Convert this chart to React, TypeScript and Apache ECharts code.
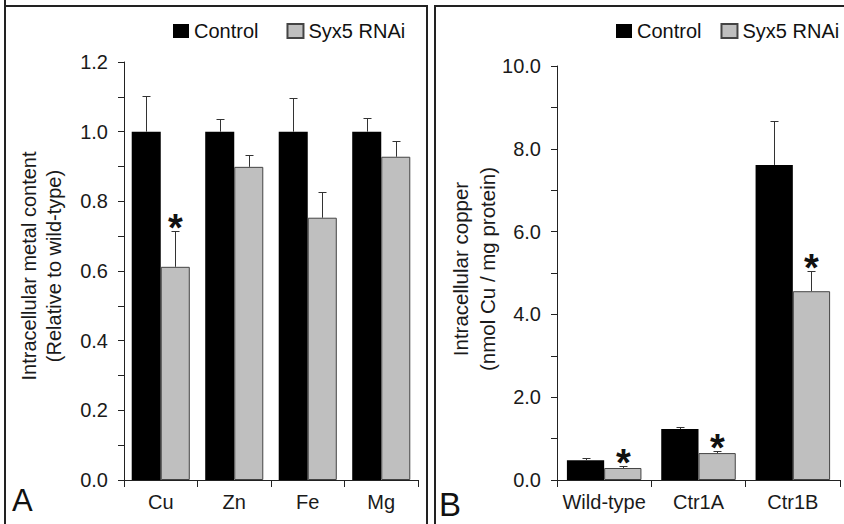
import React, { useEffect, useRef } from "react";
import * as echarts from "echarts";

const seriesNames = ["Control", "Syx5 RNAi"];

const catsA = ["Cu", "Zn", "Fe", "Mg"];
const controlA = [1.0, 1.0, 1.0, 1.0];
const controlErrA = [0.103, 0.037, 0.098, 0.04];
const syxA = [0.612, 0.899, 0.753, 0.928];
const syxErrA = [0.104, 0.035, 0.075, 0.046];
const sigA = [1, 0, 0, 0];
const ticksA = { min: 0, max: 1.2, interval: 0.2 };

const catsB = ["Wild-type", "Ctr1A", "Ctr1B"];
const controlB = [0.48, 1.23, 7.61];
const controlErrB = [0.05, 0.05, 1.06];
const syxB = [0.29, 0.65, 4.56];
const syxErrB = [0.04, 0.05, 0.49];
const sigB = [1, 1, 1];
const ticksB = { min: 0, max: 10, interval: 2 };

const FONT = "'Liberation Sans', Arial, Helvetica, sans-serif";
const AXIS_COLOR = "#222";
const GRAY = "#bfbfbf";
const GAP = 0.21;

function errSeries(
  name: string,
  values: number[],
  errs: number[],
  sig: number[],
  sign: number,
  axisIdx: number
) {
  return {
    type: "custom",
    name,
    xAxisIndex: axisIdx,
    yAxisIndex: axisIdx,
    z: 5,
    silent: true,
    data: values.map((v, i) => [i, v, errs[i], sig[i]]),
    renderItem: (params: any, api: any) => {
      const xi = api.value(0);
      const v = api.value(1);
      const e = api.value(2);
      const s = api.value(3);
      const base = api.coord([xi, v]);
      const top = api.coord([xi, v + e]);
      const band = api.size([1, 0])[0];
      const barW = (band * (1 - GAP)) / 2;
      const cx = Math.round(base[0] + (sign * barW) / 2) + 0.5;
      const ty = Math.round(top[1]) + 0.5;
      const children: any[] = [
        {
          type: "line",
          shape: { x1: cx, y1: base[1], x2: cx, y2: ty },
          style: { stroke: "#333", lineWidth: 1 },
        },
        {
          type: "line",
          shape: { x1: cx - 4, y1: ty, x2: cx + 4, y2: ty },
          style: { stroke: "#333", lineWidth: 1 },
        },
      ];
      if (s) {
        children.push({
          type: "text",
          x: cx,
          y: ty - 4,
          style: {
            text: "*",
            fill: "#111",
            font: `bold 38px ${FONT}`,
            align: "center",
            verticalAlign: "middle",
          },
        });
      }
      return { type: "group", children };
    },
  };
}

function yAxis(gridIndex: number, t: { min: number; max: number; interval: number }) {
  return {
    type: "value",
    gridIndex,
    min: t.min,
    max: t.max,
    interval: t.interval,
    axisLine: { show: true, lineStyle: { color: AXIS_COLOR, width: 1 } },
    axisTick: { show: true, length: 6, lineStyle: { color: AXIS_COLOR } },
    minorTick: { show: true, splitNumber: 2, length: 6, lineStyle: { color: AXIS_COLOR } },
    splitLine: { show: false },
    minorSplitLine: { show: false },
    axisLabel: {
      fontSize: 20,
      fontFamily: FONT,
      color: "#1a1a1a",
      margin: 16,
      formatter: (v: number) => v.toFixed(1),
    },
  };
}

function xAxis(gridIndex: number, cats: string[]) {
  return {
    type: "category",
    gridIndex,
    data: cats,
    axisLine: { show: true, lineStyle: { color: AXIS_COLOR, width: 1 } },
    axisTick: { show: true, length: 7, lineStyle: { color: AXIS_COLOR } },
    axisLabel: { fontSize: 20, fontFamily: FONT, color: "#1a1a1a", margin: 12, interval: 0 },
  };
}

function legend(left: number, gap: number) {
  return {
    left,
    top: 16,
    orient: "horizontal",
    width: 300,
    data: seriesNames,
    icon: "rect",
    itemWidth: 16,
    itemHeight: 14,
    itemGap: gap,
    selectedMode: false,
    textStyle: { fontSize: 20, fontFamily: FONT, color: "#111" },
  };
}

export default function App() {
  const ref = useRef<HTMLDivElement>(null);
  useEffect(() => {
    if (!ref.current) return;
    const chart = echarts.init(ref.current, undefined, { renderer: "svg" });
    const barStyleCtrl = { color: "#000", borderColor: "#000", borderWidth: 0 };
    const barStyleSyx = { color: GRAY, borderColor: "#444", borderWidth: 1 };
    const option: any = {
      animation: false,
      backgroundColor: "#fff",
      grid: [
        { left: 124, top: 62, width: 294, height: 418 },
        { left: 557, top: 66, width: 283, height: 414 },
      ],
      xAxis: [xAxis(0, catsA), xAxis(1, catsB)],
      yAxis: [yAxis(0, ticksA), yAxis(1, ticksB)],
      legend: [legend(168, 28), legend(611, 19)],
      series: [
        {
          type: "bar",
          name: seriesNames[0],
          xAxisIndex: 0,
          yAxisIndex: 0,
          data: controlA,
          barGap: "0%",
          barCategoryGap: GAP * 100 + "%",
          itemStyle: barStyleCtrl,
        },
        {
          type: "bar",
          name: seriesNames[1],
          xAxisIndex: 0,
          yAxisIndex: 0,
          data: syxA,
          barGap: "0%",
          barCategoryGap: GAP * 100 + "%",
          itemStyle: barStyleSyx,
        },
        {
          type: "bar",
          name: seriesNames[0],
          xAxisIndex: 1,
          yAxisIndex: 1,
          data: controlB,
          barGap: "0%",
          barCategoryGap: GAP * 100 + "%",
          itemStyle: barStyleCtrl,
        },
        {
          type: "bar",
          name: seriesNames[1],
          xAxisIndex: 1,
          yAxisIndex: 1,
          data: syxB,
          barGap: "0%",
          barCategoryGap: GAP * 100 + "%",
          itemStyle: barStyleSyx,
        },
        errSeries("errA0", controlA, controlErrA, [0, 0, 0, 0], -1, 0),
        errSeries("errA1", syxA, syxErrA, sigA, 1, 0),
        errSeries("errB0", controlB, controlErrB, [0, 0, 0], -1, 1),
        errSeries("errB1", syxB, syxErrB, sigB, 1, 1),
      ],
      graphic: [
        { type: "line", shape: { x1: 5, y1: 0, x2: 5, y2: 524 }, style: { stroke: "#222", lineWidth: 2 } },
        { type: "line", shape: { x1: 4, y1: 6, x2: 428, y2: 6 }, style: { stroke: "#222", lineWidth: 2 } },
        { type: "line", shape: { x1: 427, y1: 5, x2: 427, y2: 524 }, style: { stroke: "#222", lineWidth: 2 } },
        { type: "line", shape: { x1: 435, y1: 5, x2: 435, y2: 524 }, style: { stroke: "#222", lineWidth: 2 } },
        { type: "line", shape: { x1: 434, y1: 6, x2: 844, y2: 6 }, style: { stroke: "#222", lineWidth: 2 } },
        {
          type: "text",
          x: 41.5,
          y: 266,
          rotation: Math.PI / 2,
          style: {
            text: "Intracellular metal content\n(Relative to wild-type)",
            font: `20px ${FONT}`,
            fill: "#1a1a1a",
            align: "center",
            verticalAlign: "middle",
            lineHeight: 25,
          },
        },
        {
          type: "text",
          x: 473.5,
          y: 269,
          rotation: Math.PI / 2,
          style: {
            text: "Intracellular copper\n(nmol Cu / mg protein)",
            font: `20.5px ${FONT}`,
            fill: "#1a1a1a",
            align: "center",
            verticalAlign: "middle",
            lineHeight: 27,
          },
        },
        {
          type: "text",
          x: 12,
          y: 516,
          style: { text: "A", font: `31px ${FONT}`, fill: "#111", align: "left", verticalAlign: "bottom" },
        },
        {
          type: "text",
          x: 439,
          y: 521,
          style: { text: "B", font: `33px ${FONT}`, fill: "#111", align: "left", verticalAlign: "bottom" },
        },
      ],
    };
    chart.setOption(option);
    return () => chart.dispose();
  }, []);
  return (
    <div
      ref={ref}
      style={{ position: "absolute", left: 0, top: 0, width: 844, height: 524, background: "#fff" }}
    />
  );
}
